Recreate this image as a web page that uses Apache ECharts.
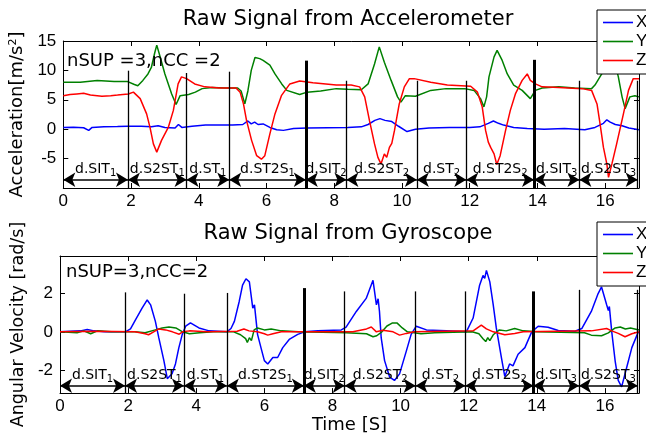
<!DOCTYPE html>
<html><head><meta charset="utf-8">
<script src="https://cdn.jsdelivr.net/npm/echarts@6/dist/echarts.min.js"></script>
<style>html,body{margin:0;padding:0;background:#fff}#c{width:646px;height:435px}</style>
</head><body><div id="c"></div><script>
// ---------- Data (time [s], value) ----------
const accX = [[0,0.3],[0.3,0.35],[0.6,0.25],[0.75,-0.2],[0.85,0.3],[1.2,0.4],[1.6,0.45],[1.9,0.5],[2.3,0.5],[2.6,0.4],[2.8,0.6],[3.0,0.3],[3.3,0.2],[3.4,0.8],[3.5,0.3],[3.8,0.5],[4.2,0.7],[4.6,0.7],[5.0,0.7],[5.3,0.8],[5.45,1.4],[5.55,0.9],[5.65,1.2],[5.75,0.8],[5.9,0.9],[6.1,0.3],[6.3,-0.1],[6.5,-0.2],[6.8,0.1],[7.2,0.2],[7.8,0.25],[8.4,0.3],[8.8,0.4],[9.0,0.8],[9.2,1.5],[9.35,1.8],[9.5,1.5],[9.7,1.3],[9.9,0.5],[10.15,-0.4],[10.4,0.0],[10.8,0.2],[11.4,0.3],[12.0,0.3],[12.3,0.4],[12.55,1.0],[12.7,1.4],[12.85,1.0],[13.0,0.7],[13.3,0.3],[13.7,0.1],[14.2,0.0],[14.8,0.1],[15.4,-0.1],[15.7,0.3],[15.95,1.0],[16.05,1.6],[16.15,1.2],[16.3,0.8],[16.5,0.6],[16.7,0.2],[17.0,-0.1]];
const accY = [[0,8.0],[0.5,8.0],[1.0,8.3],[1.5,8.1],[1.9,8.1],[2.1,7.6],[2.2,7.4],[2.35,8.3],[2.5,9.4],[2.6,10.5],[2.7,13.0],[2.76,14.3],[2.85,12.5],[3.0,9.4],[3.2,6.0],[3.33,4.2],[3.45,5.7],[3.7,5.9],[3.9,6.3],[4.1,6.9],[4.4,7.1],[4.8,7.0],[5.15,7.0],[5.25,6.5],[5.36,4.3],[5.45,6.5],[5.55,10.0],[5.66,12.2],[5.8,12.0],[5.9,11.7],[6.1,10.9],[6.25,9.4],[6.45,7.7],[6.6,6.6],[6.98,5.9],[7.2,6.3],[7.6,6.5],[8.06,6.9],[8.4,6.8],[8.8,6.7],[9.0,7.7],[9.19,11.1],[9.33,14.0],[9.48,11.4],[9.68,8.3],[9.87,5.5],[9.97,4.6],[10.1,5.7],[10.4,5.6],[10.85,6.6],[11.3,6.9],[11.85,6.9],[12.13,6.6],[12.32,5.2],[12.42,3.8],[12.5,5.5],[12.57,8.9],[12.72,12.3],[12.81,13.4],[12.96,11.7],[13.11,9.4],[13.3,7.5],[13.55,6.6],[13.79,5.2],[13.94,6.6],[14.14,7.0],[14.63,7.2],[15.1,7.0],[15.6,6.9],[15.7,7.5],[15.9,9.4],[16.05,11.5],[16.2,13.0],[16.3,11.0],[16.39,8.9],[16.5,5.5],[16.59,3.5],[16.73,5.5],[16.88,5.7],[17.0,5.5]];
const accZ = [[0,5.7],[0.2,5.9],[0.4,6.0],[0.6,6.1],[0.8,5.8],[1.0,5.7],[1.14,5.6],[1.4,5.7],[1.6,5.8],[1.92,6.0],[2.07,6.3],[2.27,5.2],[2.46,2.6],[2.56,0.3],[2.66,-2.5],[2.76,-3.9],[2.9,-1.9],[3.1,0.3],[3.25,3.2],[3.39,7.7],[3.49,8.9],[3.64,8.6],[3.88,7.7],[4.18,7.2],[4.6,7.0],[5.1,7.0],[5.22,6.3],[5.32,4.3],[5.41,1.5],[5.56,-1.9],[5.71,-4.5],[5.85,-5.1],[5.95,-4.5],[6.1,-0.8],[6.25,2.6],[6.44,5.7],[6.69,7.7],[6.98,8.2],[7.37,7.9],[8.06,7.5],[8.5,7.5],[8.75,7.2],[8.9,5.5],[9.04,1.5],[9.19,-2.5],[9.29,-4.8],[9.38,-5.9],[9.48,-4.2],[9.55,-4.8],[9.63,-3.1],[9.7,-2.4],[9.78,-0.2],[9.92,4.3],[10.07,7.2],[10.22,8.6],[10.36,8.6],[10.85,8.0],[11.34,7.5],[12.03,7.3],[12.23,6.3],[12.37,3.8],[12.47,-0.2],[12.55,-2.2],[12.62,-3.1],[12.72,-4.2],[12.8,-6.0],[12.9,-4.5],[13.06,-0.2],[13.2,3.2],[13.35,6.0],[13.55,8.3],[13.7,9.4],[13.79,8.3],[13.94,7.7],[14.14,7.2],[14.63,7.1],[15.32,6.9],[15.6,6.6],[15.76,4.3],[15.85,0.9],[15.95,-3.1],[16.05,-5.9],[16.1,-8.2],[16.2,-5.9],[16.34,-2.5],[16.54,2.6],[16.69,6.6],[16.83,8.6],[17.0,8.6]];

const gyrX = [[0,0],[0.6,0.05],[0.8,0.12],[1.0,0.05],[1.3,0],[1.92,0],[2.07,0.15],[2.22,0.63],[2.41,1.22],[2.56,1.64],[2.66,1.39],[2.8,0.54],[2.9,-0.3],[3.05,-1.48],[3.15,-2.41],[3.29,-2.16],[3.39,-1.65],[3.49,-0.81],[3.59,-0.13],[3.69,0.29],[3.83,0.46],[4.08,0.2],[4.38,0.05],[4.9,0],[5.02,0.17],[5.12,0.54],[5.26,1.55],[5.36,2.4],[5.46,2.73],[5.56,2.57],[5.66,1.22],[5.71,1.39],[5.8,-0.13],[5.9,-0.81],[6.0,-1.48],[6.1,-1.65],[6.25,-1.32],[6.39,-1.32],[6.54,-0.81],[6.73,-0.39],[6.98,-0.13],[7.18,0],[7.57,0.05],[8.26,0.1],[8.4,0.24],[8.7,1.05],[8.99,1.72],[9.19,2.65],[9.29,1.39],[9.34,1.7],[9.38,1.05],[9.43,-0.3],[9.53,-1.48],[9.68,-2.33],[9.82,-2.5],[9.97,-2.16],[10.17,-0.98],[10.31,-0.13],[10.46,0.29],[10.76,0.1],[11.34,0.05],[11.93,0],[12.13,0.71],[12.32,2.4],[12.42,2.9],[12.47,2.75],[12.52,3.16],[12.62,2.57],[12.72,1.39],[12.81,0.2],[12.96,-1.32],[13.06,-2.3],[13.2,-1.65],[13.3,-1.75],[13.45,-1.15],[13.65,-0.81],[13.85,0],[14.04,0.29],[14.33,0.24],[14.63,0.07],[15.12,0.03],[15.32,0.17],[15.6,1.05],[15.8,1.97],[15.9,2.31],[16.05,1.39],[16.1,1.1],[16.13,1.3],[16.2,0.0],[16.3,-1.5],[16.39,-2.5],[16.49,-2.83],[16.64,-1.82],[16.79,-0.81],[16.98,0]];
const gyrY = [[0,0],[0.5,-0.05],[0.7,0.05],[0.9,-0.1],[1.1,0.05],[1.5,0],[2.2,0],[2.5,-0.05],[2.8,0.1],[3.0,0.2],[3.2,0.25],[3.4,0.2],[3.6,0],[3.8,-0.1],[4.1,-0.05],[4.5,0],[5.1,0],[5.3,-0.15],[5.45,-0.35],[5.5,-0.55],[5.56,-0.3],[5.62,-0.45],[5.7,0.1],[5.8,0.2],[6.0,0.1],[6.2,0.15],[6.5,0.05],[7.0,0],[8.4,-0.05],[9.0,-0.1],[9.19,-0.25],[9.3,-0.2],[9.45,0.0],[9.6,0.3],[9.75,0.45],[9.9,0.45],[10.05,0.2],[10.2,0],[10.4,-0.05],[10.6,-0.1],[11.0,-0.05],[12.1,0],[12.3,-0.1],[12.42,-0.35],[12.5,-0.5],[12.56,-0.3],[12.62,-0.45],[12.72,-0.15],[12.9,0.1],[13.1,0.05],[13.35,0.17],[13.6,0.05],[14.0,0],[15.4,-0.05],[15.6,-0.17],[15.9,-0.2],[16.1,-0.05],[16.3,0.2],[16.45,0.25],[16.6,0.15],[16.75,0.2],[17.0,0.1]];
const gyrZ = [[0,0],[1.0,0.03],[2.2,0],[2.5,-0.1],[2.6,-0.15],[2.75,0],[2.9,0.15],[3.1,0.1],[3.3,0.0],[3.5,-0.12],[3.6,0.0],[3.8,0.05],[4.3,0],[5.2,0.03],[5.4,0.15],[5.55,0.05],[5.8,0.0],[6.0,-0.1],[6.1,-0.17],[6.25,-0.1],[6.5,0],[8.6,0],[9.0,0.15],[9.14,0.25],[9.29,0.0],[9.48,0.08],[9.78,0],[9.97,-0.17],[10.17,-0.08],[10.4,0],[12.13,0.05],[12.37,0.35],[12.52,0.15],[12.72,0],[13.06,-0.15],[13.35,-0.08],[13.6,0],[15.6,0.05],[16.05,0.17],[16.2,0.05],[16.39,-0.08],[16.59,-0.25],[16.79,-0.1],[17.0,0]];

// segment annotations
const boundaries = [1.91, 3.64, 4.9, 7.16, 8.36, 10.44, 11.9, 13.9, 15.24, 16.96];
const segNames   = ['SIT','S2ST','ST','ST2S','SIT','S2ST','ST','ST2S','SIT','S2ST'];
const segIndex   = [1,1,1,1,2,2,2,2,3,3];
const accLineTop = [9.95, 9.56, 9.78, 11.66, 8.24, 8.24, 8.24, 11.8, 8.24, 8.24];
const gyrLineTop = [2.03, 1.96, 2.0, 2.25, 2.08, 2.08, 2.08, 2.08, 2.16, 2.16];
const accArrowY = -8.6, gyrArrowY = -2.77;

const xTicks = [0,2,4,6,8,10,12,14,16];
const accTicks = [-10,-5,0,5,10,15], accLabels = [-5,0,5,10,15];
const gyrTicks = [-2,0,2], gyrLabels = [-2,0,2];
const accRange = [-10, 15], gyrRange = [-3.15, 3.9], tRange = [0, 17];
const seriesNames = ['X','Y','Z'];
const colors = ['#0000ff','#008000','#ff0000'];

// ---------- Chart ----------
const FT = 'DejaVu Sans';
const FN = 'Liberation Sans';
const chart = echarts.init(document.getElementById('c'), null, {renderer:'canvas'});

function xAxisPair(gi, name) {
  const common = {type:'value', gridIndex:gi, min:tRange[0], max:tRange[1],
    axisLine:{show:true, onZero:false, lineStyle:{color:'#000', width:1}},
    splitLine:{show:false}};
  return [
    Object.assign({}, common, {position:'bottom',
      axisTick:{show:true, inside:true, length:5, customValues:xTicks, lineStyle:{color:'#000'}},
      axisLabel:{show:true, customValues:xTicks, fontSize:17, fontFamily:FN, color:'#000', margin:5},
      name:name, nameLocation:'middle', nameGap:15,
      nameTextStyle:{fontSize:18, fontFamily:FT, color:'#000'}}),
    Object.assign({}, common, {position:'top',
      axisTick:{show:true, inside:true, length:5, customValues:xTicks, lineStyle:{color:'#000'}},
      axisLabel:{show:false}})
  ];
}
function yAxisPair(gi, range, ticks, labels, name, gap, nameSize) {
  const common = {type:'value', gridIndex:gi, min:range[0], max:range[1],
    axisLine:{show:true, onZero:false, lineStyle:{color:'#000', width:1}},
    splitLine:{show:false}};
  return [
    Object.assign({}, common, {position:'left',
      axisTick:{show:true, inside:true, length:5, customValues:ticks, lineStyle:{color:'#000'}},
      axisLabel:{show:true, customValues:labels, fontSize:17, fontFamily:FN, color:'#000', margin:7},
      name:name, nameLocation:'middle', nameGap:gap,
      nameTextStyle:{fontSize:nameSize, fontFamily:FT, color:'#000',
        rich:{sup:{fontSize:11, fontFamily:FT, color:'#000', verticalAlign:'top', padding:[0,0,8,0]}}}}),
    Object.assign({}, common, {position:'right',
      axisTick:{show:true, inside:true, length:5, customValues:ticks, lineStyle:{color:'#000'}},
      axisLabel:{show:false}})
  ];
}

function annotations(lineTop, yMin, arrowY) {
  const data = [];
  boundaries.forEach((t, i) => {
    const thick = i + 1 < segNames.length && segNames[i + 1] === 'SIT';
    data.push([{coord:[t, lineTop[i]], symbol:'none', lineStyle:{width: thick ? 3 : 1.3, color:'#000', type:'solid'}},
               {coord:[t, yMin], symbol:'none'}]);
  });
  boundaries.forEach((t, i) => {
    const s = i === 0 ? 0 : boundaries[i - 1];
    data.push([{coord:[s, arrowY], symbol:'arrow', symbolSize:[11, 12],
                lineStyle:{width:1.6, color:'#000', type:'solid'},
                label:{show:true, position:'insideMiddleTop', distance:1,
                  formatter:'{m|d.' + segNames[i] + '}{s|' + segIndex[i] + '}',
                  rich:{m:{fontSize:14, fontFamily:FT, color:'#000', lineHeight:16, verticalAlign:'top'},
                        s:{fontSize:10, fontFamily:FT, color:'#000', lineHeight:10, verticalAlign:'bottom', padding:[8,0,0,0]}}}},
               {coord:[t, arrowY], symbol:'arrow', symbolSize:[11, 12]}]);
  });
  return {silent:true, animation:false, symbol:['none','none'], label:{show:false},
          lineStyle:{color:'#000', type:'solid'}, emphasis:{disabled:true}, data};
}

function lineSeries(name, data, color, axi, extra) {
  return Object.assign({type:'line', name, data, xAxisIndex:axi, yAxisIndex:axi,
    showSymbol:false, symbol:'none', animation:false, silent:true,
    lineStyle:{color, width:1.5}, itemStyle:{color}}, extra || {});
}

const accData = [accX, accY, accZ], gyrData = [gyrX, gyrY, gyrZ];
const series = [];
seriesNames.forEach((n, k) => series.push(lineSeries(n, accData[k], colors[k], 0,
  k === 2 ? {markLine: annotations(accLineTop, accRange[0], accArrowY)} : null)));
seriesNames.forEach((n, k) => series.push(lineSeries(n, gyrData[k], colors[k], 2,
  k === 2 ? {markLine: annotations(gyrLineTop, gyrRange[0], gyrArrowY)} : null)));

const legendCommon = {data:seriesNames, orient:'vertical', left:597, icon:'rect', itemWidth:30, itemHeight:1.6, itemGap:0,
  padding:[3,10,4,6], backgroundColor:'#fff', borderColor:'#000', borderWidth:1, borderRadius:0,
  textStyle:{fontSize:17, fontFamily:FN, color:'#000', lineHeight:19, padding:[0,0,0,-2]}, selectedMode:false, z:10};

const option = {
  backgroundColor:'#fff',
  animation:false,
  grid:[{left:60, right:7, top:41, height:147}, {left:60, right:7, top:256, height:139}],
  xAxis:[...xAxisPair(0, ''), ...xAxisPair(1, 'Time [S]')],
  yAxis:[...yAxisPair(0, accRange, accTicks, accLabels, 'Acceleration[m/s{sup|2}]', 28, 18),
         ...yAxisPair(1, gyrRange, gyrTicks, gyrLabels, 'Angular Velocity [rad/s]', 22, 17.5)],
  legend:[Object.assign({top:10}, legendCommon), Object.assign({top:222}, legendCommon)],
  graphic:[
    {type:'text', x:348, y:20, style:{text:'Raw Signal from Accelerometer', fontSize:21, fontFamily:FT, fill:'#000', align:'center', verticalAlign:'middle'}},
    {type:'text', x:348, y:234, style:{text:'Raw Signal from Gyroscope', fontSize:21, fontFamily:FT, fill:'#000', align:'center', verticalAlign:'middle'}},
    {type:'text', x:67, y:61, z:5, style:{text:'nSUP =3,nCC =2', fontSize:18, fontFamily:FT, fill:'#000', align:'left', verticalAlign:'middle'}},
    {type:'text', x:66, y:272.5, z:5, style:{text:'nSUP=3,nCC=2', fontSize:18, fontFamily:FT, fill:'#000', align:'left', verticalAlign:'middle'}}
  ],
  series
};
chart.setOption(option);
</script></body></html>
